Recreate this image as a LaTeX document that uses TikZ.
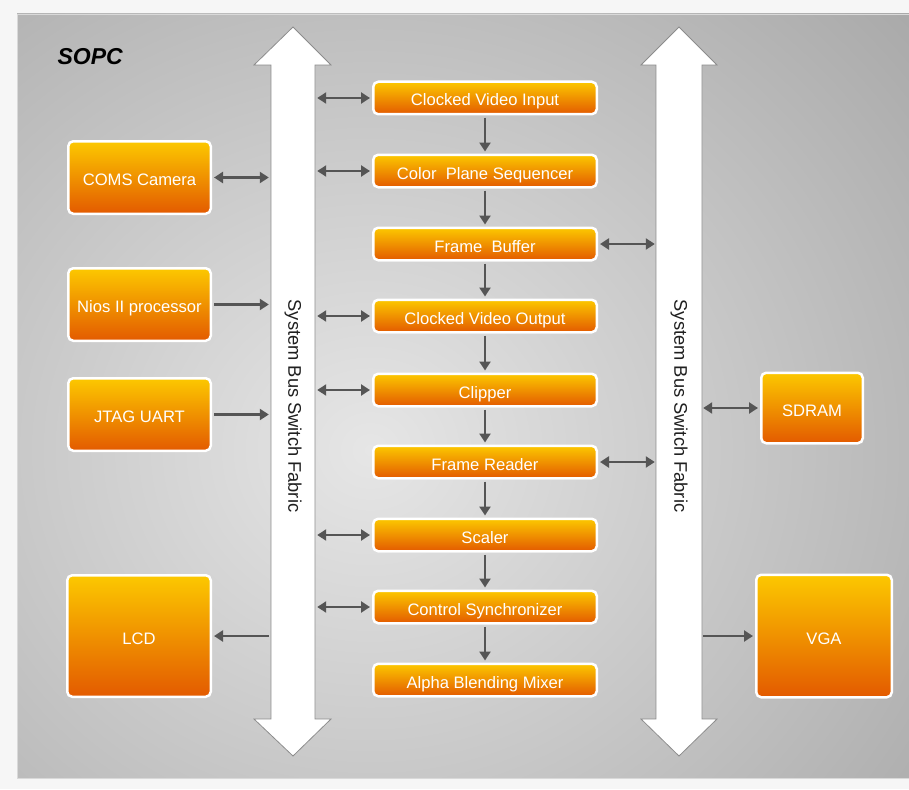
\documentclass[tikz,border=0pt]{standalone}
\usepackage{fontspec}
\setmainfont{Liberation Sans}
\usetikzlibrary{arrows.meta,shadows,calc}
\definecolor{boxtop}{HTML}{FCC800}
\definecolor{boxbot}{HTML}{E35A00}
\definecolor{conn}{HTML}{555555}
\definecolor{paneldark}{HTML}{A6A6A6}
\definecolor{panellight}{HTML}{E6E6E6}
\definecolor{busedge}{HTML}{8C8C8C}
\definecolor{outerbg}{HTML}{F6F6F6}
\begin{document}
\begin{tikzpicture}[x=1pt,y=-1pt,
  blk/.style={rounded corners=5pt, draw=white, line width=2.5pt,
    top color=boxtop, bottom color=boxbot, text=white, inner sep=0pt,
    font=\fontsize{16.6}{19}\selectfont, text height=16pt, text depth=0pt,
    drop shadow={shadow xshift=0.6pt,shadow yshift=-1pt,opacity=0.22}},
  midblk/.style={blk, minimum width=223.5pt, minimum height=32.5pt},
  busnode/.style={inner sep=0pt, minimum width=44pt, minimum height=654pt},
  bustext/.style={rotate=-90, text=black!88, font=\fontsize{18.3}{22}\selectfont},
  busshape/.style={fill=white, draw=busedge, line width=0.8pt, line join=miter},
  tip/.style={-{Triangle[length=9pt,width=11pt]}},
  conn1/.style={draw=conn, line width=2.6pt, tip, shorten >=2pt, shorten <=2pt},
  conn2/.style={draw=conn, line width=2.6pt, {Triangle[length=9pt,width=11pt]}-{Triangle[length=9pt,width=11pt]}, shorten >=2pt, shorten <=2pt}
]
\useasboundingbox (0,0) rectangle (909,789);
\fill[outerbg] (0,0) rectangle (909,789);
% panel
\begin{scope}
  \clip (17,14) rectangle (909,778);
  \fill[paneldark] (17,14) rectangle (909,778);
  \shade[inner color=panellight, outer color=paneldark] (370,450) ellipse (760 and 700);
\end{scope}
\draw[white!70!gray, line width=0.6pt] (17,14) rectangle (909,778);

\node[font=\bfseries\itshape\fontsize{23}{27}\selectfont, anchor=west] (sopc) at (54,57) {SOPC};

% buses
\node[busnode] (busL) at (293,392) {};
\node[busnode] (busR) at (679,392) {};
\draw[busshape] (293,27) -- (331,65) -- (315,65) -- (315,719) -- (331,719) -- (293,756)
  -- (254,719) -- (271,719) -- (271,65) -- (254,65) -- cycle;
\draw[busshape] (679,27) -- (717,65) -- (702,65) -- (702,719) -- (717,719) -- (679,756)
  -- (641,719) -- (656,719) -- (656,65) -- (641,65) -- cycle;
\node[bustext] (busLtext) at (293,406) {System Bus Switch Fabric};
\node[bustext] (busRtext) at (679,406) {System Bus Switch Fabric};

% left blocks
\node[blk, minimum width=142.5pt, minimum height=72.5pt] (cam) at (139.5,177.5) {COMS Camera};
\node[blk, minimum width=142.5pt, minimum height=72.5pt] (nios) at (139.5,304.5) {Nios II processor};
\node[blk, minimum width=142.5pt, minimum height=72.5pt] (jtag) at (139.5,414.5) {JTAG UART};
\node[blk, minimum width=143.5pt, minimum height=121.5pt] (lcd) at (139,636) {LCD};
% right blocks
\node[blk, minimum width=101.5pt, minimum height=70.5pt] (sdram) at (812,408) {SDRAM};
\node[blk, minimum width=135.5pt, minimum height=122.5pt] (vga) at (824,636) {VGA};

% middle blocks
\node[midblk] (cvi) at (485,98) {Clocked Video Input};
\node[midblk] (cps) at (485,171) {Color\ \ Plane Sequencer};
\node[midblk] (fb) at (485,244) {Frame\ \ Buffer};
\node[midblk] (cvo) at (485,316) {Clocked Video Output};
\node[midblk] (clip) at (485,390) {Clipper};
\node[midblk] (fr) at (485,462) {Frame Reader};
\node[midblk] (scl) at (485,535) {Scaler};
\node[midblk] (csync) at (485,607) {Control Synchronizer};
\node[midblk] (abm) at (485,680) {Alpha Blending Mixer};

% chain
\foreach \a/\b in {cvi/cps, cps/fb, fb/cvo, cvo/clip, clip/fr, fr/scl, scl/csync, csync/abm}
  \draw[conn1] (\a.south) -- (\b.north);

% left bus to middle
\foreach \n in {cvi, cps, cvo, clip, scl, csync}
  \draw[conn2] (\n.west -| busL.east) -- (\n.west);
% middle to right bus
\foreach \n in {fb, fr}
  \draw[conn2] (\n.east) -- (\n.east -| busR.west);

% left peripherals
\draw[conn2] (cam.east) -- (cam.east -| busL.west);
\draw[conn1] (nios.east) -- (nios.east -| busL.west);
\draw[conn1] (jtag.east) -- (jtag.east -| busL.west);
\draw[conn1] (lcd.east -| busL.west) -- (lcd.east);
% right peripherals
\draw[conn2] (sdram.west -| busR.east) -- (sdram.west);
\draw[conn1] (vga.west -| busR.east) -- (vga.west);
\end{tikzpicture}
\end{document}
